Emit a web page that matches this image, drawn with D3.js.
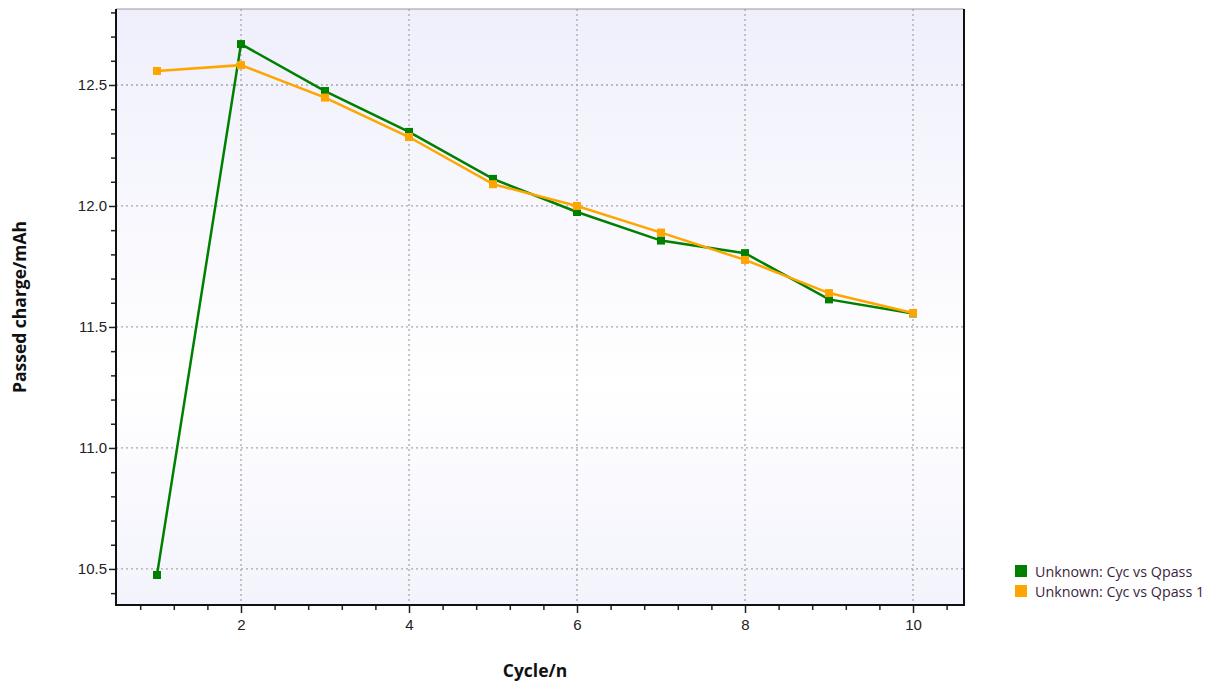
<!DOCTYPE html>
<html>
<head>
<meta charset="utf-8">
<script src="https://cdn.jsdelivr.net/npm/d3@7"></script>
<style>
  body { margin: 0; background: #fff; }
  svg { font-family: "Open Sans", "Noto Sans", sans-serif; }
</style>
</head>
<body>
<div id="chart"></div>
<script>
// cycle numbers and the two passed charge series
var cycles = [1, 2, 3, 4, 5, 6, 7, 8, 9, 10];
var qpass = [10.475, 12.669, 12.475, 12.306, 12.112, 11.975, 11.857, 11.805, 11.614, 11.556];
var qpass1 = [12.558, 12.582, 12.448, 12.285, 12.090, 12.000, 11.890, 11.777, 11.640, 11.558];
var seriesNames = ["Unknown: Cyc vs Qpass", "Unknown: Cyc vs Qpass 1"];
var seriesColors = ["#008000", "#ffa500"];
var xTicks = [2, 4, 6, 8, 10];
var yTicks = [10.5, 11.0, 11.5, 12.0, 12.5];

var W = 1212, H = 682;
var margin = {top: 9, right: 248, bottom: 77, left: 116},
    width = W - margin.left - margin.right,
    height = H - margin.top - margin.bottom;

var svg = d3.select("#chart")
  .append("svg")
    .attr("width", W)
    .attr("height", H);

// background gradient
var defs = svg.append("defs");
var grad = defs.append("linearGradient")
    .attr("id", "bg")
    .attr("x1", 0).attr("y1", 0).attr("x2", 0).attr("y2", 1);
grad.append("stop").attr("offset", "0%").attr("stop-color", "#efeffc");
grad.append("stop").attr("offset", "63%").attr("stop-color", "#ffffff");
grad.append("stop").attr("offset", "100%").attr("stop-color", "#f3f3fd");

var g = svg.append("g")
    .attr("transform", "translate(" + margin.left + "," + margin.top + ")");

var x = d3.scaleLinear().domain([0.512, 10.607]).range([0, width]);
var y = d3.scaleLinear().domain([10.351, 12.814]).range([height, 0]);

g.append("rect")
    .attr("width", width)
    .attr("height", height)
    .attr("fill", "url(#bg)");

// grid
g.selectAll(".xgrid")
  .data(xTicks)
  .enter().append("line")
    .attr("x1", function(d) { return x(d); })
    .attr("x2", function(d) { return x(d); })
    .attr("y1", 0)
    .attr("y2", height)
    .attr("stroke", "#a8a8a8")
    .attr("stroke-width", 1.3)
    .attr("stroke-dasharray", "2,3");
g.selectAll(".ygrid")
  .data(yTicks)
  .enter().append("line")
    .attr("x1", 0)
    .attr("x2", width)
    .attr("y1", function(d) { return y(d); })
    .attr("y2", function(d) { return y(d); })
    .attr("stroke", "#a8a8a8")
    .attr("stroke-width", 1.3)
    .attr("stroke-dasharray", "2,3");

// minor ticks
var xMinor = d3.range(0.8, 10.61, 0.4).filter(function(v) { return Math.abs(v / 2 - Math.round(v / 2)) > 0.01; });
var yMinor = d3.range(10.4, 12.81, 0.1).filter(function(v) { return Math.abs(v * 2 - Math.round(v * 2)) > 0.01; });

g.append("g")
    .attr("transform", "translate(0," + height + ")")
    .call(d3.axisBottom(x).tickValues(xMinor).tickSize(5).tickFormat(""))
    .call(function(a) { a.select(".domain").remove(); a.selectAll("line").attr("stroke", "#222").attr("stroke-width", 1.5); });
g.append("g")
    .call(d3.axisLeft(y).tickValues(yMinor).tickSize(5).tickFormat(""))
    .call(function(a) { a.select(".domain").remove(); a.selectAll("line").attr("stroke", "#222").attr("stroke-width", 1.5); });

// major axes
var xAxis = g.append("g")
    .attr("transform", "translate(0," + height + ")")
    .call(d3.axisBottom(x).tickValues(xTicks).tickSize(8).tickPadding(6).tickFormat(d3.format("d")));
xAxis.select(".domain").remove();
xAxis.selectAll("line").attr("stroke", "#222").attr("stroke-width", 1.5);
xAxis.selectAll("text").style("font-size", "15px").attr("fill", "#222");

var yAxis = g.append("g")
    .call(d3.axisLeft(y).tickValues(yTicks).tickSize(7).tickPadding(2).tickFormat(d3.format(".1f")));
yAxis.select(".domain").remove();
yAxis.selectAll("line").attr("stroke", "#222").attr("stroke-width", 1.5);
yAxis.selectAll("text").style("font-size", "15px").attr("fill", "#222");

// frame
g.append("line").attr("x1", 0).attr("x2", width).attr("y1", 0).attr("y2", 0)
    .attr("stroke", "#999").attr("stroke-width", 1);
g.append("path")
    .attr("d", "M0,0V" + height + "H" + width + "V0")
    .attr("fill", "none")
    .attr("stroke", "#111")
    .attr("stroke-width", 2);

// series
var series = [qpass, qpass1];
var line = d3.line()
    .x(function(d, i) { return x(cycles[i]); })
    .y(function(d) { return y(d); });

series.forEach(function(vals, k) {
  var c = seriesColors[k];
  g.append("path")
      .datum(vals)
      .attr("fill", "none")
      .attr("stroke", c)
      .attr("stroke-width", 2.5)
      .attr("d", line);
  g.selectAll(".m" + k)
    .data(vals)
    .enter().append("rect")
      .attr("x", function(d, i) { return x(cycles[i]) - 4; })
      .attr("y", function(d) { return y(d) - 4; })
      .attr("width", 8)
      .attr("height", 8)
      .attr("fill", c);
});

// axis titles
svg.append("text")
    .attr("transform", "translate(26," + (margin.top + height / 2) + ") rotate(-90)")
    .attr("text-anchor", "middle")
    .style("font-size", "17.5px")
    .style("font-weight", "bold")
    .attr("fill", "#111")
    .text("Passed charge/mAh");
svg.append("text")
    .attr("x", 535)
    .attr("y", 677)
    .attr("text-anchor", "middle")
    .style("font-size", "17.5px")
    .style("font-weight", "bold")
    .attr("fill", "#111")
    .text("Cycle/n");

// legend
var legend = svg.append("g").attr("transform", "translate(1015,565)");
seriesNames.forEach(function(name, k) {
  legend.append("rect")
      .attr("x", 0)
      .attr("y", k * 20)
      .attr("width", 12)
      .attr("height", 12)
      .attr("fill", seriesColors[k]);
  legend.append("text")
      .attr("x", 20)
      .attr("y", k * 20 + 12)
      .style("font-size", "14.3px")
      .attr("fill", "#3c1f40")
      .text(name);
});
</script>
</body>
</html>
